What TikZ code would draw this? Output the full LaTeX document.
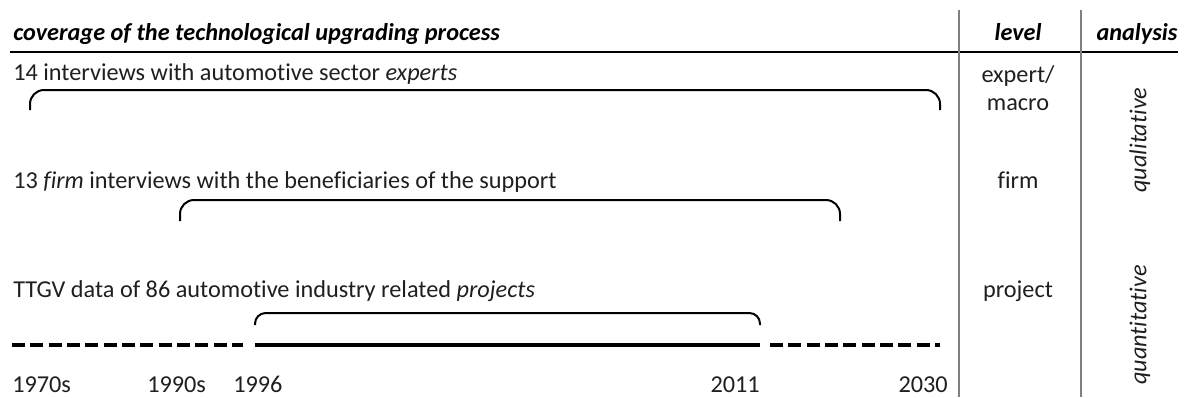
\documentclass[tikz,border=0pt]{standalone}
\usepackage{fontspec}
\setmainfont{Carlito}[Ligatures=NoCommon]
\usetikzlibrary{positioning}

\begin{document}
\begin{tikzpicture}[
      x=0.75pt, y=0.75pt,
      nodes={inner sep=0pt, text=black!88, font=\fontsize{18.2}{21}\selectfont},
      hd/.style={text=black, font=\fontsize{18.2}{21}\selectfont\bfseries\itshape},
      txt/.style={anchor=base west},
      lvl/.style={anchor=base},
      ana/.style={rotate=90, font=\fontsize{18.2}{21}\selectfont\itshape},
      brace/.style={line width=1.5pt, rounded corners=10.5pt},
      sep/.style={line width=1.1pt, black!50},
      tl/.style={line width=3pt},
      tldash/.style={line width=3pt, dash pattern=on 9.75pt off 4pt}
      ]

      \useasboundingbox (0,0) rectangle (1184,-397);

      % head of the table
      \node[hd, anchor=base west]   (h1) at (13,-40) {coverage of the technological upgrading process};
      \node[hd, anchor=base]        (h2) at (1018,-40) {level};
      \node[hd, anchor=base]        (h3) at (1137,-40) {analysis};

      \coordinate (rl) at (10,-52);
      \coordinate (rr) at (1178,-52);
      \coordinate (s1) at (959,-10);
      \coordinate (s2) at (1081,-10);
      \draw[line width=1pt] (rl) -- (rr);
      \draw[sep] (s1) -- ++(0,-387);
      \draw[sep] (s2) -- ++(0,-387);

      % the three sources
      \node[txt] (r1) at (13,-80)  {14 interviews with automotive sector \textit{experts}};
      \node[txt] (r2) at (13,-188) {13 \textit{firm} interviews with the beneficiaries of the support};
      \node[txt] (r3) at (13,-297) {TTGV data of 86 automotive industry related \textit{projects}};

      \node[lvl] (l1) at (1018,-82) {expert/};
      \node[below=28 of l1.base, lvl] (l2) {macro};
      \node[lvl] (l3) at (r2.base -| h2.base) {firm};
      \node[lvl] (l4) at (r3.base -| h2.base) {project};

      \node[ana] (a1) at (1140,-140) {qualitative};
      \node[ana] (a2) at (1140,-325) {quantitative};

      % brackets over the covered years
      \coordinate (b1l) at (30,-110);
      \coordinate (b1r) at (940,-110);
      \coordinate (b2l) at (180,-221);
      \coordinate (b2r) at (840,-221);
      \coordinate (b3l) at (255,-325);
      \coordinate (b3r) at (760,-325);
      \draw[brace] (b1l) -- ++(0,20) -| (b1r);
      \draw[brace] (b2l) -- ++(0,21) -| (b2r);
      \draw[brace, rounded corners=8pt] (b3l) -- ++(0,12) -| (b3r);

      % time line
      \coordinate (t0) at (12,-345);
      \coordinate (t1) at (243,-345);
      \coordinate (t2) at (255,-345);
      \coordinate (t3) at (760,-345);
      \coordinate (t4) at (770,-345);
      \coordinate (t5) at (940,-345);
      \draw[tldash] (t0) -- (t1);
      \draw[tl] (t2) -- (t3);
      \draw[tldash] (t4) -- (t5);

      \node[below=47 of t0, anchor=base west]               (y1) {1970s};
      \node[below right=47 and 135 of t0, anchor=base west] (y2) {1990s};
      \node[below left=47 and 22 of t2, anchor=base west]   (y3) {1996};
      \node[below=47 of t3, anchor=base east]               (y4) {2011};
      \node[below right=47 and 8 of t5, anchor=base east]   (y5) {2030};

\end{tikzpicture}
\end{document}
